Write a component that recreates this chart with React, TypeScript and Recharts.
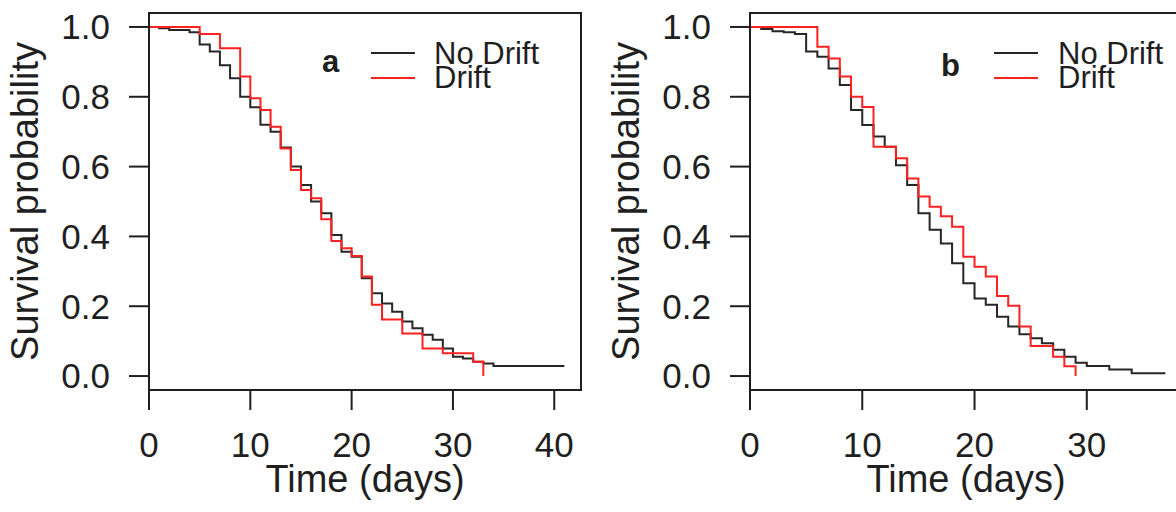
import React from 'react';
import { LineChart, Line, XAxis, YAxis, ReferenceArea } from 'recharts';

const FONT = '"Liberation Sans", Arial, Helvetica, sans-serif';
const INK = '#1f1f1f';
const NO_DRIFT_COLOR = '#262626';
const DRIFT_COLOR = '#ff2020';

// Kaplan-Meier steps (day of event, survival after it)
// panel a
const daysANoDrift = [0, 1, 2, 4, 5, 6, 7, 8, 9, 10, 11, 12, 13, 14, 15, 16, 17, 18, 19, 20, 21, 22, 23, 24, 25, 26, 27, 28, 29, 30, 31, 32, 33, 34, 41];
const survANoDrift = [1, 0.996, 0.991, 0.985, 0.95, 0.93, 0.89, 0.853, 0.8, 0.77, 0.72, 0.7, 0.655, 0.6, 0.547, 0.5, 0.466, 0.404, 0.356, 0.342, 0.28, 0.237, 0.208, 0.184, 0.156, 0.137, 0.118, 0.104, 0.079, 0.055, 0.05, 0.041, 0.036, 0.029, 0.029];
const daysADrift = [0, 5, 7, 9, 10, 11, 12, 13, 14, 15, 16, 17, 18, 19, 20, 21, 22, 23, 25, 27, 29, 32, 33];
const survADrift = [1, 0.98, 0.939, 0.858, 0.796, 0.762, 0.714, 0.652, 0.59, 0.533, 0.509, 0.449, 0.387, 0.366, 0.344, 0.285, 0.204, 0.162, 0.122, 0.079, 0.065, 0.041, 0];

// panel b
const daysBNoDrift = [0, 1, 2, 3, 4, 5, 6, 7, 8, 9, 10, 11, 12, 13, 14, 15, 16, 17, 18, 19, 20, 21, 22, 23, 24, 25, 26, 27, 28, 29, 30, 32, 34, 37];
const survBNoDrift = [1, 0.994, 0.988, 0.985, 0.98, 0.93, 0.915, 0.881, 0.834, 0.762, 0.719, 0.686, 0.657, 0.604, 0.547, 0.466, 0.419, 0.38, 0.323, 0.266, 0.222, 0.204, 0.17, 0.142, 0.12, 0.108, 0.094, 0.075, 0.055, 0.038, 0.029, 0.019, 0.008, 0.008];
const daysBDrift = [0, 6, 7, 8, 9, 10, 11, 13, 14, 15, 16, 17, 18, 19, 20, 21, 22, 23, 24, 25, 27, 28, 29];
const survBDrift = [1, 0.943, 0.91, 0.858, 0.8, 0.771, 0.657, 0.624, 0.566, 0.514, 0.485, 0.458, 0.428, 0.342, 0.313, 0.285, 0.229, 0.201, 0.142, 0.086, 0.055, 0.028, 0];

const yTicks = [0, 0.2, 0.4, 0.6, 0.8, 1.0];
const xTicksA = [0, 10, 20, 30, 40];
const xTicksB = [0, 10, 20, 30];
const seriesNames = ['No Drift', 'Drift'];

const toRows = (days: number[], surv: number[]) => days.map((t, i) => ({ t, s: surv[i] }));

const XTitle = (props: any) => {
  const vb = props.viewBox || { x: 149, y: 390, width: 432, height: 122 };
  return (
    <text x={vb.x + vb.width / 2} y={vb.y + 102} textAnchor="middle" fontSize={38} fill={INK} fontFamily={FONT}>
      Time (days)
    </text>
  );
};

const YTitle = (props: any) => {
  const vb = props.viewBox || { x: 0, y: 13, width: 149, height: 377 };
  const cx = vb.x + 39;
  const cy = vb.y + vb.height / 2;
  return (
    <text x={cx} y={cy} transform={`rotate(-90 ${cx} ${cy})`} textAnchor="middle" fontSize={38} fill={INK} fontFamily={FONT}>
      Survival probability
    </text>
  );
};

const Panel = ({ left, xMax, xTicks, noDrift, drift }: any) => {
  const tick = { fontSize: 35, fill: INK, fontFamily: FONT };
  return (
    <div style={{ position: 'absolute', left, top: 0 }}>
      <LineChart width={600} height={512} margin={{ top: 13, right: 18, bottom: 0, left: 0 }}>
        <XAxis
          type="number"
          dataKey="t"
          domain={[0, xMax]}
          ticks={xTicks}
          interval={0}
          allowDataOverflow
          height={122}
          tickSize={20}
          tickMargin={22}
          tick={tick}
          axisLine={{ stroke: INK, strokeWidth: 2 }}
          tickLine={{ stroke: INK, strokeWidth: 2 }}
          label={<XTitle />}
        />
        <YAxis
          type="number"
          domain={[-0.04, 1.04]}
          ticks={yTicks}
          interval={0}
          allowDataOverflow
          width={150}
          tickSize={20}
          tickMargin={19}
          tick={tick}
          tickFormatter={(v: number) => v.toFixed(1)}
          axisLine={{ stroke: INK, strokeWidth: 2 }}
          tickLine={{ stroke: INK, strokeWidth: 2 }}
          label={<YTitle />}
        />
        <ReferenceArea x1={0} x2={xMax} y1={-0.04} y2={1.04} fill="none" stroke={INK} strokeWidth={2} />
        <Line data={noDrift} dataKey="s" type="stepAfter" stroke={NO_DRIFT_COLOR} strokeWidth={2} dot={false} isAnimationActive={false} />
        <Line data={drift} dataKey="s" type="stepAfter" stroke={DRIFT_COLOR} strokeWidth={2} dot={false} isAnimationActive={false} />
      </LineChart>
    </div>
  );
};

const PanelLegend = ({ letter, letterX, letterY, lineX, textX }: any) => (
  <g fontFamily={FONT} fill={INK}>
    <text x={letterX} y={letterY} fontSize={31} fontWeight="bold">{letter}</text>
    <line x1={lineX} x2={lineX + 44} y1={53} y2={53} stroke={NO_DRIFT_COLOR} strokeWidth={2} />
    <line x1={lineX} x2={lineX + 44} y1={78} y2={78} stroke={DRIFT_COLOR} strokeWidth={2} />
    <text x={textX} y={64} fontSize={31}>{seriesNames[0]}</text>
    <text x={textX} y={88} fontSize={31}>{seriesNames[1]}</text>
  </g>
);

export default function App() {
  return (
    <div style={{ position: 'fixed', left: 0, top: 0, width: 1176, height: 512, overflow: 'hidden', background: '#fff' }}>
      <Panel left={-1} xMax={42.64} xTicks={xTicksA} noDrift={toRows(daysANoDrift, survANoDrift)} drift={toRows(daysADrift, survADrift)} />
      <Panel left={600} xMax={38.48} xTicks={xTicksB} noDrift={toRows(daysBNoDrift, survBNoDrift)} drift={toRows(daysBDrift, survBDrift)} />
      <svg width={1176} height={512} style={{ position: 'absolute', left: 0, top: 0, pointerEvents: 'none' }}>
        <PanelLegend letter="a" letterX={322} letterY={72} lineX={371} textX={434} />
        <PanelLegend letter="b" letterX={941} letterY={76} lineX={994} textX={1058} />
      </svg>
    </div>
  );
}
